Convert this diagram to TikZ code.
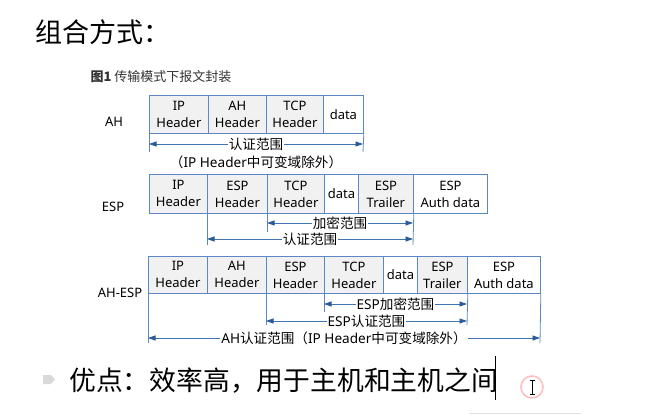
\documentclass[tikz,border=0pt]{standalone}
\usepackage{fontspec}
\setmainfont{Noto Sans}
\newfontfamily\cjk{Noto Sans CJK SC}
\usetikzlibrary{arrows.meta}
\definecolor{frameblue}{HTML}{5B88C4}
\definecolor{arrowblue}{HTML}{3F74B5}
\definecolor{tipblue}{HTML}{2A5A9A}
\definecolor{cellgray}{HTML}{F1F1F1}
\definecolor{captiongray}{HTML}{333333}
\newcommand{\fsz}[2]{\fontsize{#1}{#2}\selectfont}
\begin{document}
\begin{tikzpicture}[x=1pt,y=-1pt,
  cell/.style={draw=frameblue, line width=0.8pt, anchor=north west, inner sep=0pt,
    align=center, font=\fsz{13}{17}, text=black},
  hdr/.style={cell, fill=cellgray},
  dat/.style={cell, fill=white},
  rowlabel/.style={font=\fsz{13}{16}, text=black},
  guide/.style={draw=frameblue, line width=0.8pt},
  spanarrow/.style={draw=arrowblue, line width=0.8pt,
    {Triangle[length=7.5pt,width=5pt,color=tipblue]}-{Triangle[length=7.5pt,width=5pt,color=tipblue]}},
  rlabel/.style={fill=white, inner sep=1pt, font=\fsz{13.6}{16}, text=black},
]
\useasboundingbox[fill=white] (0,0) rectangle (647,417);

% heading and caption
\node[anchor=west, font=\cjk\fsz{27}{30}] (title) at (32,32) {组合方式：};
\node[anchor=west, font=\cjk\fsz{13}{15}, text=captiongray] (caption) at (87,77) {{\bfseries 图1} 传输模式下报文封装};

% ---- AH ----
\node[rowlabel] (lAH) at (114,122) {AH};
\node[hdr, minimum width=59pt, minimum height=38pt] (a1) at (149,95) {IP\\Header};
\node[hdr, minimum width=58pt, minimum height=38pt] (a2) at (208,95) {AH\\Header};
\node[hdr, minimum width=57pt, minimum height=38pt] (a3) at (266,95) {TCP\\Header};
\node[dat, minimum width=40pt, minimum height=38pt] (a4) at (323,95) {data};
\coordinate (aL) at (149,152); \coordinate (aR) at (363,152);
\coordinate (aLa) at (149,144); \coordinate (aRa) at (363,144);
\draw[guide] (a1.south west) -- (aL);
\draw[guide] (a4.south east) -- (aR);
\draw[spanarrow] (aLa) -- node[rlabel] (aAuth) {\cjk 认证范围} (aRa);
\node[font=\fsz{13.6}{16}] (aNote) at (256,162) {{\cjk （}IP Header{\cjk 中可变域除外）}};

% ---- ESP ----
\node[rowlabel] (lESP) at (113,207) {ESP};
\node[hdr, minimum width=58pt, minimum height=39pt] (e1) at (149,174) {IP\\Header};
\node[hdr, minimum width=60pt, minimum height=39pt] (e2) at (207,174) {ESP\\Header};
\node[hdr, minimum width=57pt, minimum height=39pt] (e3) at (267,174) {TCP\\Header};
\node[dat, minimum width=34pt, minimum height=39pt] (e4) at (324,174) {data};
\node[hdr, minimum width=55pt, minimum height=39pt] (e5) at (358,174) {ESP\\Trailer};
\node[dat, minimum width=74pt, minimum height=39pt] (e6) at (413,174) {ESP\\Auth data};
\coordinate (eA) at (207,245); \coordinate (eB) at (267,232); \coordinate (eC) at (413,245);
\coordinate (eEncL) at (267,223); \coordinate (eEncR) at (413,223);
\coordinate (eAutL) at (207,239); \coordinate (eAutR) at (413,239);
\draw[guide] (e2.south west) -- (eA);
\draw[guide] (e3.south west) -- (eB);
\draw[guide] (e5.south east) -- (eC);
\draw[spanarrow] (eEncL) -- node[rlabel] (eEnc) {\cjk 加密范围} (eEncR);
\draw[spanarrow] (eAutL) -- node[rlabel] (eAut) {\cjk 认证范围} (eAutR);

% ---- AH-ESP ----
\node[rowlabel] (lAE) at (120,293) {AH-ESP};
\node[hdr, minimum width=59pt, minimum height=37pt] (c1) at (148,256) {IP\\Header};
\node[hdr, minimum width=59pt, minimum height=37pt] (c2) at (207,256) {AH\\Header};
\node[hdr, minimum width=58pt, minimum height=37pt] (c3) at (266,256) {ESP\\Header};
\node[hdr, minimum width=59pt, minimum height=37pt] (c4) at (324,256) {TCP\\Header};
\node[dat, minimum width=34pt, minimum height=37pt] (c5) at (383,256) {data};
\node[hdr, minimum width=50pt, minimum height=37pt] (c6) at (417,256) {ESP\\Trailer};
\node[dat, minimum width=73pt, minimum height=37pt] (c7) at (467,256) {ESP\\Auth data};
\coordinate (cA) at (148,343); \coordinate (cB) at (266,325); \coordinate (cC) at (324,312);
\coordinate (cD) at (467,325); \coordinate (cE) at (540,343);
\coordinate (cEncL) at (324,304); \coordinate (cEncR) at (467,304);
\coordinate (cAutL) at (266,321); \coordinate (cAutR) at (467,321);
\coordinate (cAhL) at (148,338); \coordinate (cAhR) at (540,338);
\draw[guide] (c1.south west) -- (cA);
\draw[guide] (c3.south west) -- (cB);
\draw[guide] (c4.south west) -- (cC);
\draw[guide] (c6.south east) -- (cD);
\draw[guide] (c7.south east) -- (cE);
\draw[spanarrow] (cEncL) -- node[rlabel] (cEnc) {ESP{\cjk 加密范围}} (cEncR);
\draw[spanarrow] (cAutL) -- node[rlabel] (cAut) {ESP{\cjk 认证范围}} (cAutR);
\draw[spanarrow] (cAhL) -- node[rlabel] (cAh) {AH{\cjk 认证范围（}IP Header{\cjk 中可变域除外）}} (cAhR);

% ---- bullet line ----
\fill[gray!30] (43,375) -- (51,375) -- (55,379.5) -- (51,384) -- (43,384) -- cycle;
\node[anchor=west, inner sep=0pt, font=\cjk\fsz{26.8}{30}] (adv) at (69,381) {优点：效率高，用于主机和主机之间};
\draw[line width=0.8pt] (495,356) -- (495,400);

% pointer with click highlight
\draw[red!25, line width=1.6pt] (532,387) circle (11);
\draw[line width=0.7pt] (532,380) -- (532,394);
\draw[line width=0.7pt] (529.5,380) -- (534.5,380) (529.5,394) -- (534.5,394);
\draw[gray!25, line width=0.8pt] (469,413) -- (581,413);
\end{tikzpicture}
\end{document}
